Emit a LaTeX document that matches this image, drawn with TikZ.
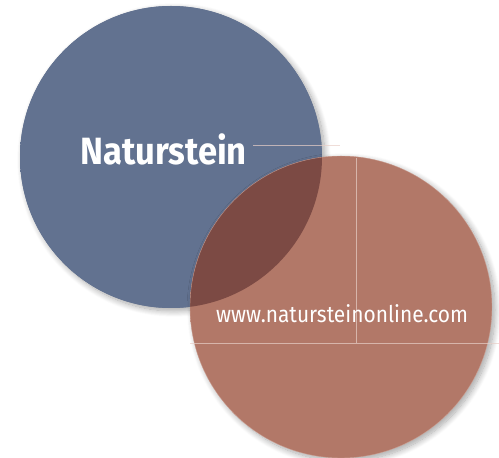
\documentclass[tikz,border=0pt]{standalone}
\usepackage{fontspec}
\newfontfamily\fira{Fira Sans}
\usetikzlibrary{shadows.blur}
\definecolor{bluec}{HTML}{627290}
\definecolor{bluel}{HTML}{8A9AB4}
\definecolor{redc}{HTML}{B27868}
\definecolor{redl}{HTML}{D29C8A}
\definecolor{overc}{HTML}{7C4A44}
\definecolor{guide}{HTML}{E8CFC8}
\pgfdeclareradialshading{blueball}{\pgfpoint{0bp}{0bp}}{color(0bp)=(bluec); color(42bp)=(bluec); color(50bp)=(bluel)}
\pgfdeclareradialshading{redball}{\pgfpoint{0bp}{0bp}}{color(0bp)=(redc); color(42bp)=(redc); color(50bp)=(redl)}
\tikzset{
  ball/.style={blur shadow={shadow xshift=3pt, shadow yshift=-3pt, shadow blur steps=12, shadow blur radius=6pt, shadow opacity=35}},
  guideline/.style={draw=guide, line width=0.6pt, opacity=0.7},
  title/.style={text=white, font=\fira\bfseries\fontsize{38}{40}\selectfont, inner sep=0pt, anchor=base west, xscale=0.91},
  url/.style={text=white, font=\fira\fontsize{23}{26}\selectfont, inner sep=0pt, anchor=base west, xscale=0.91}
}
\begin{document}
\begin{tikzpicture}[x=1pt,y=1pt]
\useasboundingbox (0,0) rectangle (499,458);
% blue circle
\path[ball, fill=bluec] (171,301) circle[radius=151];
\shade[shading=blueball] (171,301) circle[radius=151];
% red circle
\path[ball, fill=redc] (341,151) circle[radius=151];
\shade[shading=redball] (341,151) circle[radius=151];
% overlap
\begin{scope}
  \clip (171,301) circle[radius=151];
  \fill[overc] (341,151) circle[radius=151];
\end{scope}
\draw[guide, line width=0.4pt, opacity=0.5] (341,151) circle[radius=151];
% guide lines
\coordinate (g1a) at (253,313);
\coordinate (g1b) at (340,313);
\coordinate (g2a) at (356,300);
\coordinate (g2b) at (356,115);
\coordinate (g3a) at (190,115);
\coordinate (g3b) at (499,115);
\draw[guideline] (g1a) -- (g1b);
\draw[guideline] (g2a) -- (g2b);
\draw[guideline] (g3a) -- (g3b);
% texts
\node[title] (t1) at (80,293) {Naturstein};
\node[url] (t2) at (216,135) {www.natursteinonline.com};
\end{tikzpicture}
\end{document}
